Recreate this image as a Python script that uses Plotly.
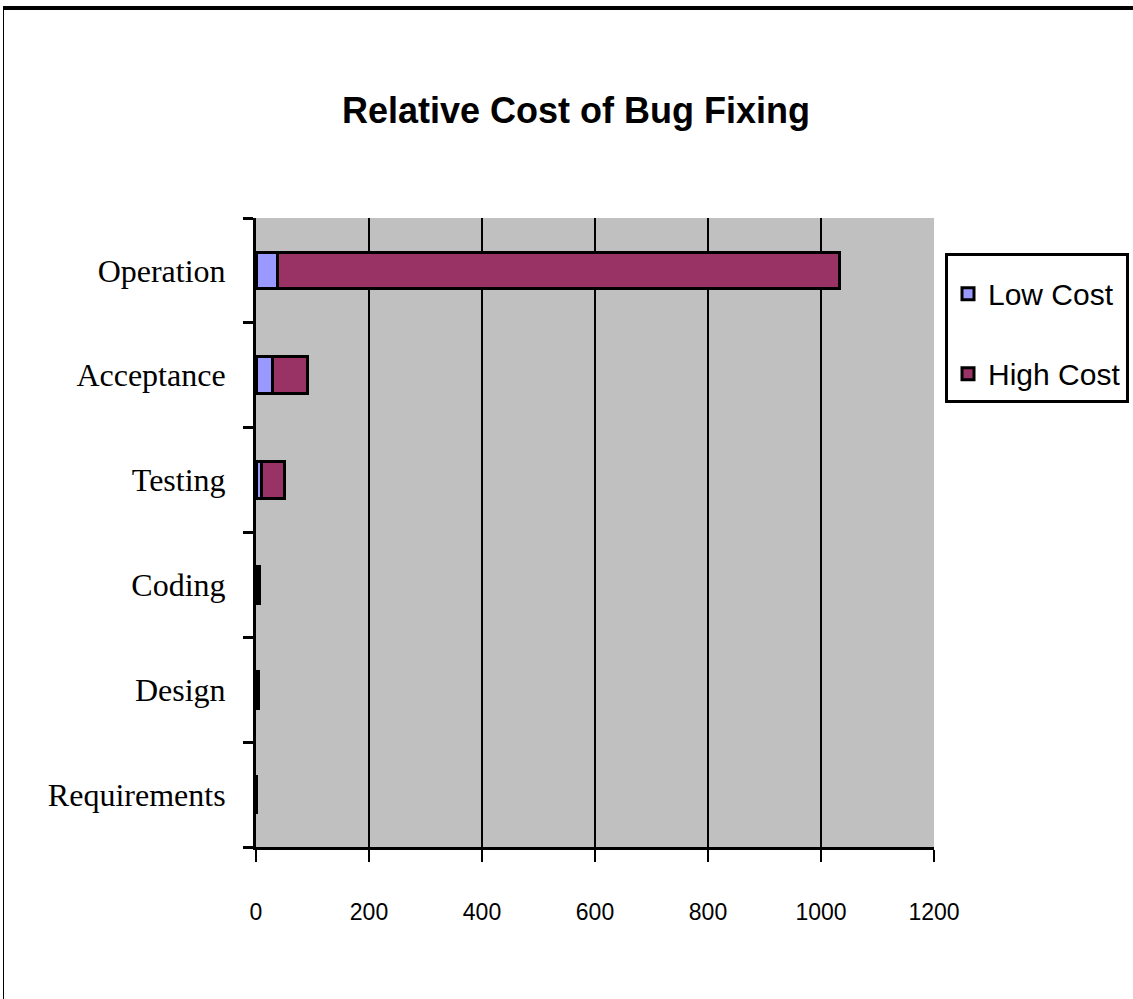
import plotly.graph_objects as go

phases = ["Requirements", "Design", "Coding", "Testing", "Acceptance", "Operation"]
low_cost = [0.5, 2, 3, 10, 30, 38]
high_cost = [0.5, 3, 3, 40, 62, 995]
x_ticks = [0, 200, 400, 600, 800, 1000, 1200]

W, H = 1133, 999
L, R, T, B = 256, 1133 - 934, 218, 999 - 847
pw, ph = W - L - R, H - T - B

narrow = "Liberation Sans Narrow, Arial Narrow, Liberation Sans, Arial, sans-serif"

fig = go.Figure()
fig.add_trace(go.Bar(y=phases, x=low_cost, name="Low Cost", orientation="h",
                     marker=dict(color="#9999FF", line=dict(color="black", width=3)),
                     legendgroup="a"))
fig.add_trace(go.Bar(y=phases, x=high_cost, name="High Cost", orientation="h",
                     marker=dict(color="#993366", line=dict(color="black", width=3)),
                     legendgroup="b"))

def px_x(p):
    return (p - L) / pw

def px_y(p):
    return (H - B - p) / ph

fig.update_layout(
    width=W, height=H,
    margin=dict(l=L, r=R, t=T, b=B, autoexpand=False),
    paper_bgcolor="white",
    plot_bgcolor="#C0C0C0",
    barmode="stack",
    bargap=0.65,
    title=dict(text="<b>Relative Cost of Bug Fixing</b>", x=576 / W, xanchor="center",
               y=1 - 110 / H, yanchor="middle",
               font=dict(family=narrow, size=36, color="black")),
    xaxis=dict(range=[0, 1200], tickvals=x_ticks, ticktext=[str(v) for v in x_ticks],
               showgrid=True, gridcolor="black", gridwidth=2,
               showline=True, linecolor="black", linewidth=3,
               ticks="outside", ticklen=12, tickwidth=2, tickcolor="black",
               ticklabelstandoff=30, zeroline=False, fixedrange=True,
               tickfont=dict(family=narrow, size=23, color="black")),
    yaxis=dict(categoryorder="array", categoryarray=phases,
               showline=True, linecolor="black", linewidth=3,
               ticks="outside", ticklen=10, tickwidth=3, tickcolor="black",
               tickson="boundaries", showgrid=False, ticklabelstandoff=21,
               tickfont=dict(family="Liberation Serif, Times New Roman, serif", size=32, color="black")),
    legend=dict(x=px_x(945), y=px_y(253), xanchor="left", yanchor="top",
                bordercolor="black", borderwidth=3, bgcolor="white",
                traceorder="grouped", tracegroupgap=38,
                title=dict(text=" ", font=dict(size=9)),
                font=dict(family=narrow, size=30, color="black")),
    shapes=[
        dict(type="line", xref="paper", yref="paper", x0=px_x(3), x1=px_x(1133),
             y0=px_y(8), y1=px_y(8), line=dict(color="black", width=4)),
        dict(type="line", xref="paper", yref="paper", x0=px_x(3.5), x1=px_x(3.5),
             y0=px_y(8), y1=px_y(999), line=dict(color="black", width=1)),
    ],
)

fig.write_html("out.html")
